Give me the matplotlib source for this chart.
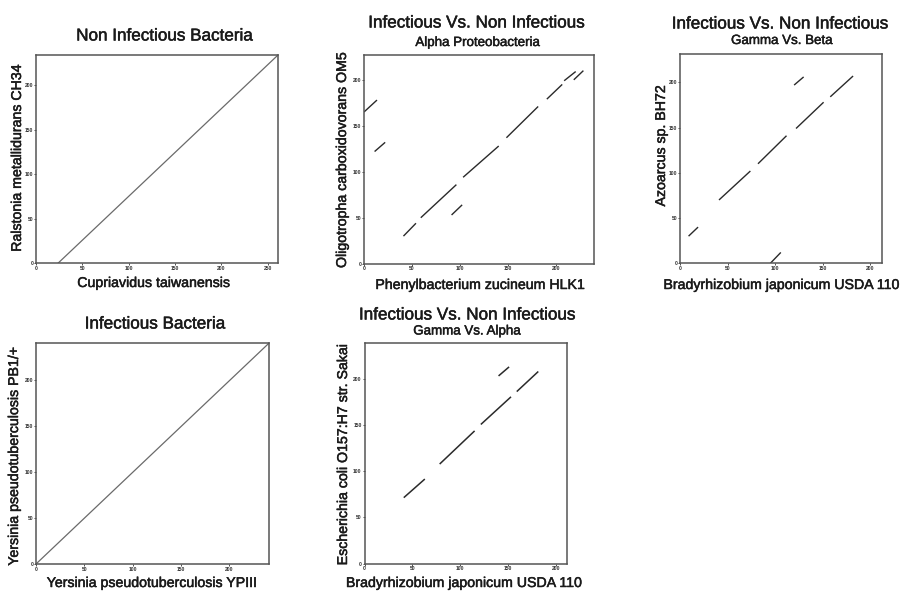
import matplotlib
matplotlib.use("Agg")
import matplotlib.pyplot as plt
import matplotlib.patheffects as pe

plt.rcParams['font.family'] = ['Liberation Sans', 'DejaVu Sans']

W, H = 901, 592

# ---------------- data ----------------
# Panel 1: Non Infectious Bacteria (single diagonal)
p1_x = [24, 260]
p1_y = [0, 233]
p1_xlim = 261
p1_ylim = 234
p1_xticks = [0, 50, 100, 150, 200, 250]
p1_yticks = [0, 50, 100, 150, 200]

# Panel 2: Alpha Proteobacteria (segments)
p2_xs = [0, 11, 41, 59, 91, 103, 148, 190, 208, 218]
p2_xe = [13.5, 22, 54, 96, 102, 140, 181, 206, 220, 228]
p2_ys = [165, 122, 30, 50, 53, 94, 137, 179, 199, 200]
p2_ye = [178, 132, 44, 86, 64, 128, 171, 195, 209, 210]
p2_xlim = 238.5
p2_ylim = 227
p2_xticks = [0, 50, 100, 150, 200]
p2_yticks = [0, 50, 100, 150, 200]

# Panel 3: Gamma Vs. Beta
p3_xs = [9, 41, 82, 95, 122, 120, 158]
p3_xe = [19, 74, 112, 106, 151, 130, 182]
p3_ys = [30, 70, 110, 0, 149, 197, 184]
p3_ye = [40, 102, 141, 12, 178, 206, 207]
p3_xlim = 212.4
p3_ylim = 231
p3_xticks = [0, 50, 100, 150, 200]
p3_yticks = [0, 50, 100, 150, 200]

# Panel 4: Infectious Bacteria (single diagonal)
p4_x = [0, 241]
p4_y = [0, 240]
p4_xlim = 241.5
p4_ylim = 240
p4_xticks = [0, 50, 100, 150, 200]
p4_yticks = [0, 50, 100, 150, 200]

# Panel 5: Gamma Vs. Alpha
p5_xs = [41, 78.5, 121.5, 159, 140]
p5_xe = [63, 115, 153, 181.5, 151]
p5_ys = [71.5, 108, 151, 186.7, 203.7]
p5_ye = [91.7, 144, 181, 208.5, 213.5]
p5_xlim = 211.8
p5_ylim = 240
p5_xticks = [0, 50, 100, 150, 200]
p5_yticks = [0, 50, 100, 150, 200]

# ---------------- drawing ----------------
fig = plt.figure(figsize=(W / 100, H / 100), dpi=100)


def px_rect(l, r, t, b):
    return [l / W, 1 - b / H, (r - l) / W, (b - t) / H]


def txt(x, y, s, size, rot=0, weight='normal', stroke=0.35):
    t = fig.text(x / W, 1 - y / H, s, ha='center', va='center', fontsize=size,
                 rotation=rot, fontweight=weight, color='#1a1a1a')
    t.set_path_effects([pe.withStroke(linewidth=stroke, foreground='#1a1a1a')])


def style(ax, xlim, ylim, xticks, yticks):
    ax.set_xlim(0, xlim)
    ax.set_ylim(0, ylim)
    ax.set_xticks(xticks)
    ax.set_yticks(yticks)
    ax.set_xticklabels([str(t) for t in xticks])
    ax.set_yticklabels([str(t) for t in yticks])
    ax.tick_params(axis='both', length=1.2, width=0.6, pad=0.8,
                   labelsize=3.6, colors='#333333')
    for lab in ax.get_xticklabels() + ax.get_yticklabels():
        lab.set_fontweight('bold')
    for sp in ax.spines.values():
        sp.set_color('#555555')
        sp.set_linewidth(1.1)


seg_color = '#2a2a2a'
line_color = '#6a6a6a'

# Panel 1
ax1 = fig.add_axes(px_rect(36, 278, 55, 263))
ax1.plot(p1_x, p1_y, color=line_color, lw=0.9)
style(ax1, p1_xlim, p1_ylim, p1_xticks, p1_yticks)

# Panel 2
ax2 = fig.add_axes(px_rect(364, 593.5, 55, 263.7))
for a, b, c, d in zip(p2_xs, p2_xe, p2_ys, p2_ye):
    ax2.plot([a, b], [c, d], color=seg_color, lw=1.0, solid_capstyle='butt')
style(ax2, p2_xlim, p2_ylim, p2_xticks, p2_yticks)

# Panel 3
ax3 = fig.add_axes(px_rect(680, 882, 54.3, 263.3))
for a, b, c, d in zip(p3_xs, p3_xe, p3_ys, p3_ye):
    ax3.plot([a, b], [c, d], color=seg_color, lw=1.0, solid_capstyle='butt')
style(ax3, p3_xlim, p3_ylim, p3_xticks, p3_yticks)

# Panel 4
ax4 = fig.add_axes(px_rect(36, 269.3, 343.3, 564))
ax4.plot(p4_x, p4_y, color=line_color, lw=0.9)
style(ax4, p4_xlim, p4_ylim, p4_xticks, p4_yticks)

# Panel 5
ax5 = fig.add_axes(px_rect(364.5, 567.3, 342.5, 563.5))
for a, b, c, d in zip(p5_xs, p5_xe, p5_ys, p5_ye):
    ax5.plot([a, b], [c, d], color=seg_color, lw=1.1, solid_capstyle='butt')
style(ax5, p5_xlim, p5_ylim, p5_xticks, p5_yticks)

# ---------------- texts ----------------
T = 12.3
S = 9.6
L = 10.2

txt(165, 36, 'Non Infectious Bacteria', T)
txt(154, 283, 'Cupriavidus taiwanensis', L)
txt(17, 158, 'Ralstonia metallidurans CH34', L, rot=90)

txt(477, 23, 'Infectious Vs. Non Infectious', T)
txt(478, 43, 'Alpha Proteobacteria', S)
txt(480, 285, 'Phenylbacterium zucineum HLK1', L)
txt(342, 160, 'Oligotropha carboxidovorans OM5', L, rot=90)

txt(780.5, 24, 'Infectious Vs. Non Infectious', T)
txt(782, 41, 'Gamma Vs. Beta', S)
txt(781.5, 285, 'Bradyrhizobium japonicum USDA 110', L)
txt(661, 146, 'Azoarcus sp. BH72', L, rot=90)

txt(155.5, 324, 'Infectious Bacteria', T)
txt(152, 583, 'Yersinia pseudotuberculosis YPIII', L)
txt(14, 456, 'Yersinia pseudotuberculosis PB1/+', L, rot=90)

txt(467.7, 315, 'Infectious Vs. Non Infectious', T)
txt(467, 331.5, 'Gamma Vs. Alpha', S)
txt(464, 583, 'Bradyrhizobium japonicum USDA 110', L)
txt(343, 454.5, 'Escherichia coli O157:H7 str. Sakai', L, rot=90)

fig.savefig('out.png', dpi=100)
